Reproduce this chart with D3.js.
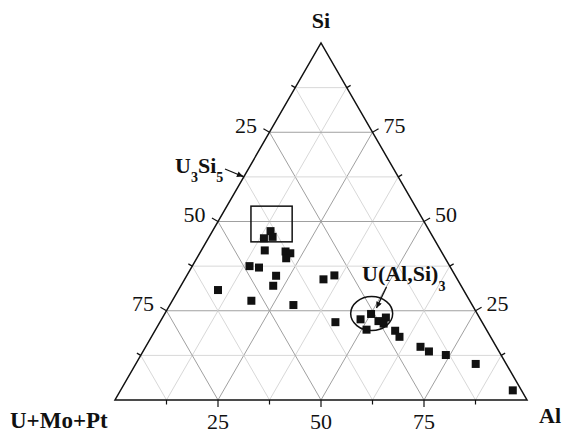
<!DOCTYPE html>
<html>
<head>
<meta charset="utf-8">
<script src="https://cdn.jsdelivr.net/npm/d3@7"></script>
<style>
  html, body { margin: 0; padding: 0; background: #fff; }
  svg { display: block; }
  text { font-family: "Liberation Serif", "Times New Roman", serif; fill: #111; }
</style>
</head>
<body>
<svg id="chart" width="562" height="435"></svg>
<script>
// ---- data (percent) ----
const components = ["U+Mo+Pt", "Al", "Si"];
const alValues = [14.1, 13.5, 15.4, 15.4, 20.6, 22.0, 21.7, 13.9, 16.4, 21.7,
                  22.4, 9.6, 19.2, 30.0, 33.7, 35.8, 42.6, 48.3, 50.1, 51.2,
                  52.9, 54.2, 54.5, 58.3, 60.2, 66.7, 69.4, 74.0, 82.5, 95.2];
const siValues = [47.3, 45.3, 45.7, 41.9, 41.6, 41.1, 39.7, 37.5, 37.1, 34.8,
                  32.0, 30.8, 27.8, 26.6, 33.8, 34.9, 21.8, 22.6, 24.1, 19.7,
                  22.1, 23.1, 21.4, 19.4, 17.7, 14.9, 13.6, 12.6, 10.1, 2.7];
const majorTicks = [25, 50, 75];
const minorTicks = [12.5, 37.5, 62.5, 87.5];

// ---- geometry ----
const svg = d3.select("#chart");
const baseScale = d3.scaleLinear().domain([0, 100]).range([115, 527]);
const heightScale = d3.scaleLinear().domain([0, 100]).range([400, 43]);
// ternary (al, si) -> pixel
function pt(al, si) { return [baseScale(al + si / 2), heightScale(si)]; }

const gGrid = svg.append("g");
const gridLevels = d3.range(12.5, 100, 12.5);
gridLevels.forEach(v => {
  const major = majorTicks.includes(v);
  const col = major ? "#a0a0a0" : "#d8d8d8";
  const lines = [
    [pt(0, v), pt(100 - v, v)],          // constant Si
    [pt(v, 0), pt(v, 100 - v)],          // constant Al
    [pt(0, 100 - v), pt(100 - v, 0)]     // constant U+Mo+Pt
  ];
  lines.forEach(l => {
    gGrid.append("line")
      .attr("x1", l[0][0]).attr("y1", l[0][1])
      .attr("x2", l[1][0]).attr("y2", l[1][1])
      .attr("stroke", col).attr("stroke-width", 1);
  });
});

// triangle frame
const A = pt(0, 0), B = pt(100, 0), C = pt(0, 100);
svg.append("path")
  .attr("d", d3.line()([A, B, C, A]) + "Z")
  .attr("fill", "none").attr("stroke", "#111").attr("stroke-width", 1.5)
  .attr("stroke-linejoin", "miter");

// ticks
const gTicks = svg.append("g").attr("stroke", "#111").attr("stroke-width", 1.2);
const c30 = Math.cos(Math.PI / 6), s30 = 0.5;
function tick(p, dir, len) {
  gTicks.append("line")
    .attr("x1", p[0]).attr("y1", p[1])
    .attr("x2", p[0] + dir[0] * len).attr("y2", p[1] + dir[1] * len);
}
const dirBottom = [0, 1], dirLeft = [-c30, -s30], dirRight = [c30, -s30];
majorTicks.concat(minorTicks).forEach(v => {
  const len = majorTicks.includes(v) ? 7 : 4.5;
  tick(pt(v, 0), dirBottom, len);            // bottom: Al
  tick(pt(0, 100 - v), dirLeft, len);        // left: U+Mo+Pt
  tick(pt(100 - v, v), dirRight, len);       // right: Si
});

// tick labels
const gLab = svg.append("g").style("font-size", "22px");
majorTicks.forEach(v => {
  const b = pt(v, 0);
  gLab.append("text").attr("x", b[0]).attr("y", b[1] + 29)
    .attr("text-anchor", "middle").text(v);
  const l = pt(0, 100 - v);
  gLab.append("text").attr("x", l[0] - 12.5).attr("y", l[1] + 0.5)
    .attr("text-anchor", "end").text(v);
  const r = pt(100 - v, v);
  gLab.append("text").attr("x", r[0] + 11).attr("y", r[1] + 0.5)
    .attr("text-anchor", "start").text(v);
});

// axis titles
const gT = svg.append("g").style("font-weight", "bold");
gT.append("text").attr("x", C[0]).attr("y", 28).attr("text-anchor", "middle")
  .style("font-size", "22px").text(components[2]);
gT.append("text").attr("x", 10).attr("y", 428).style("font-size", "23px").text(components[0]);
gT.append("text").attr("x", 539).attr("y", 423).style("font-size", "22px").text(components[1]);

// box around U3Si5-rich region
const r0 = pt(33, 0), r1 = pt(43, 0);
svg.append("rect")
  .attr("x", r0[0]).attr("y", heightScale(54.3))
  .attr("width", r1[0] - r0[0]).attr("height", heightScale(44.3) - heightScale(54.3))
  .attr("fill", "none").attr("stroke", "#111").attr("stroke-width", 1.5);

// markers
const pts = alValues.map((a, i) => pt(a, siValues[i]));
svg.append("g").selectAll("rect").data(pts).join("rect")
  .attr("x", d => d[0] - 4).attr("y", d => d[1] - 4)
  .attr("width", 8).attr("height", 8).attr("fill", "#111");

// ellipse around U(Al,Si)3
const ec = pt(50.2, 24.2);
svg.append("ellipse").attr("cx", ec[0]).attr("cy", ec[1])
  .attr("rx", 21).attr("ry", 17)
  .attr("fill", "none").attr("stroke", "#111").attr("stroke-width", 1.5);

// arrows
svg.append("defs").append("marker").attr("id", "ah")
  .attr("viewBox", "0 0 10 10").attr("refX", 10).attr("refY", 5)
  .attr("markerWidth", 7).attr("markerHeight", 6).attr("orient", "auto")
  .attr("markerUnits", "userSpaceOnUse")
  .append("path").attr("d", "M0,0L10,5L0,10Z").attr("fill", "#111");
function arrow(x1, y1, x2, y2) {
  svg.append("line").attr("x1", x1).attr("y1", y1).attr("x2", x2).attr("y2", y2)
    .attr("stroke", "#111").attr("stroke-width", 1.3).attr("marker-end", "url(#ah)");
}
const u3 = pt(0, 62.6);
arrow(225, 169, u3[0] - 1, u3[1]);
arrow(386.5, 287, 376.5, 308);

// phase labels
const t1 = svg.append("text").attr("x", 175).attr("y", 173)
  .style("font-weight", "bold").style("font-size", "22px");
t1.append("tspan").text("U");
t1.append("tspan").attr("dy", 9).style("font-size", "14px").text("3");
t1.append("tspan").attr("dy", -9).text("Si");
t1.append("tspan").attr("dy", 9).style("font-size", "14px").text("5");

const t2 = svg.append("text").attr("x", 362).attr("y", 281)
  .style("font-weight", "bold").style("font-size", "22px");
t2.append("tspan").text("U(Al,Si)");
t2.append("tspan").attr("dy", 10).style("font-size", "14px").text("3");
</script>
</body>
</html>
